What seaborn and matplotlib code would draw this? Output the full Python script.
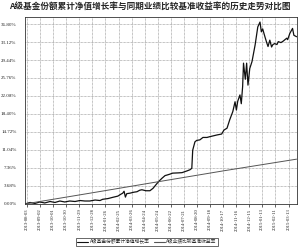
import matplotlib
matplotlib.use("Agg")
import matplotlib.pyplot as plt
import seaborn as sns
import pandas as pd

sns.set_theme(style="white")
plt.rcParams['font.family'] = ['Noto Sans CJK SC', 'DejaVu Sans']

title = "A级基金份额累计净值增长率与同期业绩比较基准收益率的历史走势对比图"
fund_name = "A级基金份额累计净值增长率"
bench_name = "A级业绩比较基准收益率"

tick_labels = ["2013-08-03", "2013-09-02", "2013-10-01", "2013-10-30", "2013-11-29",
               "2013-12-28", "2014-01-26", "2014-02-25", "2014-03-26", "2014-04-24",
               "2014-05-24", "2014-06-22", "2014-07-21", "2014-08-20", "2014-09-18",
               "2014-10-17", "2014-11-16", "2014-12-15", "2015-01-13", "2015-02-11",
               "2015-03-13"]
tick_days = [0, 30, 59, 88, 118, 147, 176, 206, 235, 264, 294, 323, 352, 382, 411,
             440, 470, 499, 528, 557, 587]
y_ticks = [0.00, 3.68, 7.36, 11.04, 14.72, 18.40, 22.08, 25.76, 29.44, 33.12, 36.80]

fund_days = [-4, 7, 18, 29, 40, 52, 63, 74, 85, 96, 108, 119, 130, 141, 153, 164, 170,
             182, 193, 204, 211, 215, 218, 221, 224, 231, 240, 247, 253, 258, 267, 276,
             283, 292, 298, 303, 310, 314, 321, 327, 339, 348, 359, 366, 370, 372, 377,
             381, 388, 395, 404, 410, 417, 426, 437, 442, 449, 455, 462, 467, 470, 473,
             478, 481, 484, 486, 490, 493, 496, 500, 505, 512, 518, 523, 526, 529, 534,
             538, 541, 545, 549, 552, 556, 561, 564, 570, 575, 583, 585, 590, 596, 599,
             605]
fund_vals = [0.0, 0.3, 0.1, 0.4, 0.2, 0.5, 0.3, 0.6, 0.4, 0.6, 0.5, 0.7, 0.6, 0.6, 0.8,
             0.7, 0.95, 1.1, 1.36, 1.6, 2.0, 2.2, 2.6, 1.4, 2.1, 2.2, 2.4, 2.5, 2.8, 2.9,
             2.7, 2.7, 3.2, 4.2, 4.8, 5.25, 5.8, 5.9, 6.1, 6.3, 6.35, 6.4, 6.75, 7.0, 7.3,
             11.0, 12.7, 13.0, 13.1, 13.6, 13.6, 13.75, 13.9, 14.1, 14.3, 15.1, 15.5,
             17.2, 18.9, 20.9, 19.2, 21.0, 22.3, 20.5, 24.0, 28.8, 25.5, 28.8, 24.3, 27.7,
             29.1, 32.5, 36.2, 37.2, 35.2, 35.8, 34.2, 33.0, 32.2, 33.5, 32.1, 32.6, 32.8,
             32.6, 33.2, 33.0, 33.3, 33.9, 33.6, 34.9, 35.9, 34.5, 34.2]

bench_days = [-4, 148, 295, 443, 605]
bench_vals = [0.0, 2.3, 4.55, 6.8, 9.16]

df = pd.concat([
    pd.DataFrame({"day": fund_days, "value": fund_vals, "series": fund_name}),
    pd.DataFrame({"day": bench_days, "value": bench_vals, "series": bench_name}),
])

fig = plt.figure(figsize=(3.0, 2.49), dpi=100)
ax = fig.add_axes([0.083, 0.179, 0.907, 0.754])
sns.lineplot(data=df, x="day", y="value", hue="series", sort=False,
             palette={fund_name: "#111111", bench_name: "#555555"},
             ax=ax, legend=False, estimator=None)
for line, lw in zip(ax.lines, [0.9, 0.7]):
    line.set_linewidth(lw)

ax.set_xlim(-4.5, 606)
ax.set_ylim(-0.1, 38.3)
ax.set_xticks(tick_days)
ax.set_xticklabels(tick_labels, rotation=90, fontsize=3.4, family=['Liberation Serif'])
ax.set_yticks(y_ticks)
ax.set_yticklabels([f"{v:.2f}%" for v in y_ticks], fontsize=3.6, family=['Liberation Serif'])
ax.tick_params(axis='x', length=2, width=0.5, pad=1, colors='#222222', bottom=True)
ax.tick_params(axis='y', length=0, pad=6, colors='#222222')
ax.set_xlabel("")
ax.set_ylabel("")
ax.grid(True, linestyle=(0, (1, 1)), color="#888888", linewidth=0.5)
for s in ax.spines.values():
    s.set_color("#333333")
    s.set_linewidth(0.6)

fig.text(0.5, 0.975, title, ha="center", va="center", fontsize=6.2, fontweight="bold")

from matplotlib.lines import Line2D
handles = [Line2D([], [], color="#111111", lw=0.8), Line2D([], [], color="#555555", lw=0.8)]
leg = fig.legend(handles, [fund_name, bench_name], loc="center", bbox_to_anchor=(0.49, 0.028),
                 ncol=2, fontsize=3.4, frameon=True, fancybox=False, handlelength=2.2,
                 columnspacing=1.0, borderpad=0.35, handletextpad=0.4)
leg.get_frame().set_edgecolor("#222222")
leg.get_frame().set_linewidth(0.6)

fig.savefig("out.png", dpi=100)
